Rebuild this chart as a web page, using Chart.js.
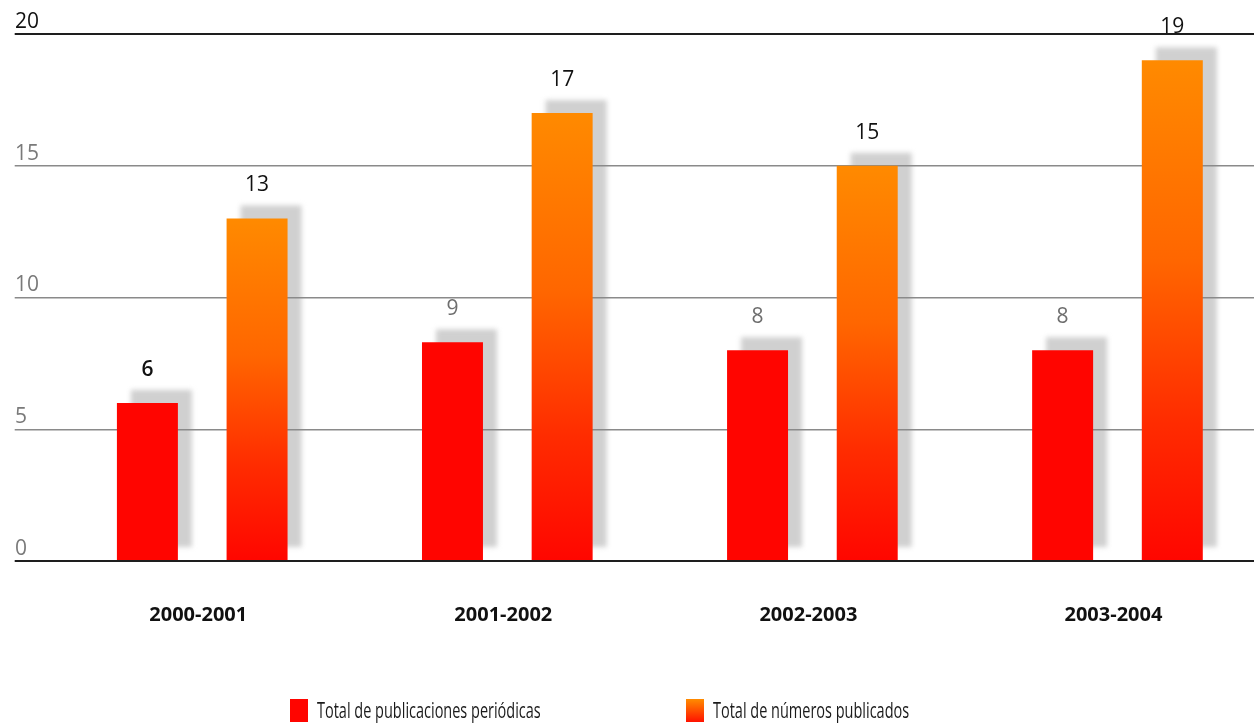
<!DOCTYPE html>
<html>
<head>
<meta charset="utf-8">
<script src="https://cdn.jsdelivr.net/npm/chart.js@4.4.0/dist/chart.umd.min.js"></script>
<style>
html,body{margin:0;padding:0;background:#fff;overflow:hidden;width:1254px;height:723px;}
#wrap{position:relative;width:1254px;height:723px;overflow:hidden;background:#fff;}
#c{position:absolute;left:0;top:0;}
.lg{position:absolute;display:flex;align-items:center;font-family:'Open Sans',sans-serif;font-size:21px;color:#1a1a1a;white-space:nowrap;}
.lg .box{width:18px;height:23px;margin-right:9px;flex:none;}
.lg .txt{display:inline-block;transform-origin:0 50%;transform:scaleX(0.69);}
</style>
</head>
<body>
<div id="wrap">
  <canvas id="c" width="1270" height="723"></canvas>
  <div class="lg" id="lg0" style="left:290px;top:696px;"><span class="box" style="background:#ff0500"></span><span class="txt"></span></div>
  <div class="lg" id="lg1" style="left:686px;top:696px;"><span class="box" style="background:linear-gradient(#ff8c00,#ff1200)"></span><span class="txt"></span></div>
</div>
<script>
// ---- data ----
const categories = ['2000-2001', '2001-2002', '2002-2003', '2003-2004'];
const seriesNames = ['Total de publicaciones periódicas', 'Total de números publicados'];
const publicaciones = [6, 8.3, 8, 8];
const publicacionesLabels = ['6', '9', '8', '8'];
const numeros = [13, 17, 15, 19];
const numerosLabels = ['13', '17', '15', '19'];
const yTicks = [0, 5, 10, 15, 20];

const FONT = "'Open Sans', sans-serif";
const RED = '#ff0500';

function orangeGradient(ctx) {
  const chart = ctx.chart;
  const ys = chart.scales && chart.scales.y;
  if (ctx.type !== 'data' || !ys || !chart.chartArea) return '#ff6a00';
  const top = ys.getPixelForValue(ctx.raw);
  const bot = ys.getPixelForValue(0);
  if (!isFinite(top) || !isFinite(bot) || top === bot) return '#ff6a00';
  const g = chart.ctx.createLinearGradient(0, top, 0, bot);
  g.addColorStop(0, '#ff8a00');
  g.addColorStop(0.4, '#ff6600');
  g.addColorStop(0.72, '#ff2c00');
  g.addColorStop(1, '#ff0600');
  return g;
}

const shadowPlugin = {
  id: 'barShadow',
  beforeDraw(chart) {
    const ctx = chart.ctx;
    ctx.save();
    ctx.fillStyle = 'rgba(200,200,200,0.85)';
    ctx.filter = 'blur(2.5px)';
    chart.data.datasets.forEach((ds, i) => {
      chart.getDatasetMeta(i).data.forEach(bar => {
        const p = bar.getProps(['x', 'y', 'base', 'width'], true);
        ctx.fillRect(p.x - p.width / 2 + 14, p.y - 13, p.width, p.base - p.y);
      });
    });
    ctx.restore();
  }
};

const valueLabelPlugin = {
  id: 'valueLabels',
  afterDatasetsDraw(chart) {
    const ctx = chart.ctx;
    ctx.save();
    ctx.textAlign = 'center';
    ctx.textBaseline = 'middle';
    chart.data.datasets.forEach((ds, i) => {
      chart.getDatasetMeta(i).data.forEach((bar, j) => {
        const p = bar.getProps(['x', 'y'], true);
        ctx.font = ds.labelWeights[j] + ' 21px ' + FONT;
        ctx.fillStyle = ds.labelColors[j];
        ctx.fillText(ds.valueLabels[j], p.x, p.y - 33);
      });
    });
    ctx.restore();
  }
};

const isMajor = v => v === 0 || v === 20;

const chart = new Chart(document.getElementById('c'), {
  type: 'bar',
  data: {
    labels: categories,
    datasets: [
      {
        label: seriesNames[0],
        data: publicaciones,
        backgroundColor: RED,
        valueLabels: publicacionesLabels,
        labelColors: ['#111', '#6e6e6e', '#6e6e6e', '#6e6e6e'],
        labelWeights: ['600', '400', '400', '400']
      },
      {
        label: seriesNames[1],
        data: numeros,
        backgroundColor: orangeGradient,
        valueLabels: numerosLabels,
        labelColors: ['#111', '#111', '#111', '#111'],
        labelWeights: ['400', '400', '400', '400']
      }
    ]
  },
  options: {
    responsive: false,
    animation: false,
    layout: { padding: { left: 15, top: 34, right: 0, bottom: 54 } },
    datasets: { bar: { categoryPercentage: 0.719, barPercentage: 0.556 } },
    plugins: { legend: { display: false }, tooltip: { enabled: false } },
    scales: {
      x: {
        grid: { display: false, drawTicks: false },
        border: { display: false },
        ticks: { color: '#111', font: { family: FONT, size: 20, weight: '700' }, padding: 42, labelOffset: -4, maxRotation: 0 }
      },
      y: {
        min: 0, max: 20,
        afterBuildTicks(scale) { scale.ticks = yTicks.map(v => ({ value: v })); },
        afterFit(scale) { scale.width = 34.7; },
        border: { display: false },
        grid: {
          color: c => (c.tick && isMajor(c.tick.value)) ? '#1e1e1e' : '#8a8a8a',
          lineWidth: c => (c.tick && isMajor(c.tick.value)) ? 2 : 1.5,
          drawTicks: true,
          tickLength: 35
        },
        ticks: {
          crossAlign: 'far',
          labelOffset: -12,
          padding: 0,
          color: c => c.tick.value === 20 ? '#111' : '#7a7a7a',
          font: { family: FONT, size: 21 }
        }
      }
    }
  },
  plugins: [shadowPlugin, valueLabelPlugin]
});

// HTML legend from dataset labels
chart.data.datasets.forEach((ds, i) => {
  const el = document.querySelector('#lg' + i + ' .txt');
  el.textContent = ds.label;
});
</script>
</body>
</html>
